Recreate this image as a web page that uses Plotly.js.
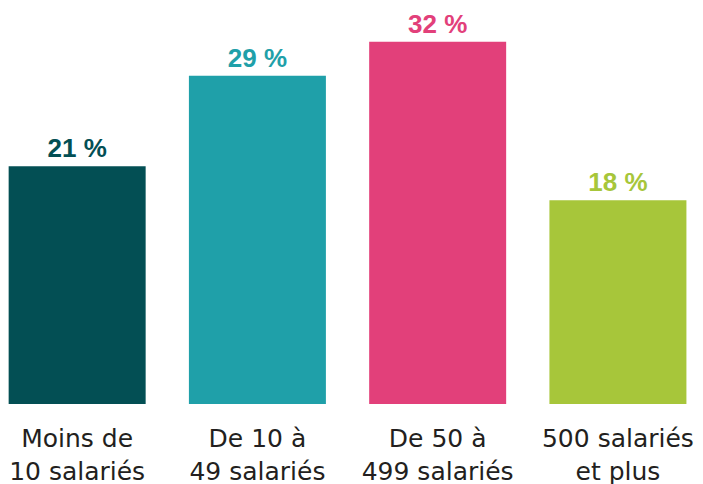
<!DOCTYPE html>
<html>
<head>
<meta charset="utf-8">
<script src="https://cdn.plot.ly/plotly-3.0.1.min.js"></script>
<style>html,body{margin:0;padding:0;background:#fff;}#chart{width:703px;height:484px;}</style>
</head>
<body>
<div id="chart"></div>
<script>
const categories = ["Moins de<br>10 salariés", "De 10 à<br>49 salariés", "De 50 à<br>499 salariés", "500 salariés<br>et plus"];
const values = [21, 29, 32, 18];
const valueLabels = ["21 %", "29 %", "32 %", "18 %"];
const colors = ["#034f54", "#1fa0a9", "#e2407a", "#a7c63a"];

const trace = {
  type: "bar",
  x: categories,
  y: values,
  text: valueLabels,
  textposition: "outside",
  cliponaxis: false,
  textfont: {family: "Liberation Sans, Arial, sans-serif", size: 26, color: colors, weight: "bold"},
  marker: {color: colors},
  width: 0.76,
  hoverinfo: "none"
};

const layout = {
  width: 703, height: 484,
  margin: {l: 0, r: 0, t: 4, b: 80},
  paper_bgcolor: "#ffffff",
  plot_bgcolor: "#ffffff",
  showlegend: false,
  xaxis: {
    type: "category",
    range: [-0.428, 3.472],
    showgrid: false, zeroline: false, showline: false,
    ticks: "",
    ticklabelstandoff: 17,
    tickfont: {family: "DejaVu Sans, sans-serif", size: 25, color: "#231f20"}
  },
  yaxis: {
    range: [0, 35.34],
    visible: false,
    showgrid: false, zeroline: false
  }
};

Plotly.newPlot("chart", [trace], layout, {displayModeBar: false, staticPlot: true});
</script>
</body>
</html>
